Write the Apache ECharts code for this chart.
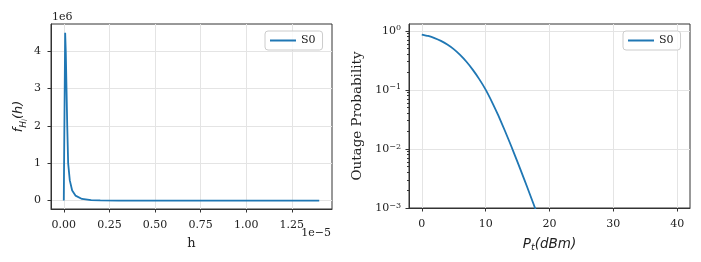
<!DOCTYPE html>
<html><head><meta charset="utf-8">
<script src="https://cdn.jsdelivr.net/npm/echarts@6/dist/echarts.min.js"></script>
<style>html,body{margin:0;padding:0;background:#fff}#c{width:701px;height:262px}</style>
</head><body><div id="c"></div>
<script>
const seriesName = 'S0';
// Left panel: h (units of 1e-5) and f_H(h) (units of 1e6)
const hValues   = [0, 0.0076, 0.011, 0.015, 0.019, 0.024, 0.033, 0.046, 0.064, 0.10, 0.15, 0.20, 0.30, 0.50, 0.80, 1.10, 1.40];
const pdfValues = [0, 4.49, 3.98, 3.0, 2.0, 1.0, 0.54, 0.27, 0.134, 0.044, 0.012, 0.004, 0.001, 0, 0, 0, 0];
const hTicks = [0, 0.25, 0.5, 0.75, 1.0, 1.25];
const pdfTicks = [0, 1, 2, 3, 4];
// Right panel: transmit power (dBm) and outage probability
const ptValues     = [0, 1, 2, 3, 4, 5, 6, 7, 8, 9, 10, 11, 12, 13, 14, 15, 16, 17, 18, 19];
const outageValues = [0.865, 0.817, 0.753, 0.675, 0.585, 0.489, 0.391, 0.299, 0.218, 0.152, 0.101, 0.0622, 0.0365, 0.0205, 0.0112, 0.00598, 0.00315, 0.00163, 0.000836, 0.000422];
const ptTicks = [0, 10, 20, 30, 40];
const outageTicks = [0.001, 0.01, 0.1, 1];
const outageMinorTicks = [0.002,0.003,0.004,0.005,0.006,0.007,0.008,0.009,0.02,0.03,0.04,0.05,0.06,0.07,0.08,0.09,0.2,0.3,0.4,0.5,0.6,0.7,0.8,0.9];

const serif = 'DejaVu Serif';
const spine = '#333';
const gridCol = '#e4e4e4';
const tickFont = {fontFamily: serif, fontSize: 11, color: '#222'};

function valueAxis(extra) {
  return Object.assign({
    type: 'value',
    axisLine: {show: true, onZero: false, lineStyle: {color: spine, width: 1}},
    splitLine: {show: true, lineStyle: {color: gridCol, width: 1}}
  }, extra);
}
const legendBase = {data: [seriesName], top: 31, orient: 'vertical', icon: 'rect', itemWidth: 26, itemHeight: 2, itemGap: 5,
  padding: [4, 7, 4, 5], borderColor: '#ccc', borderWidth: 1, borderRadius: 3, backgroundColor: 'rgba(255,255,255,0.8)',
  textStyle: {fontFamily: serif, fontSize: 11, color: '#222'}};

const chart = echarts.init(document.getElementById('c'), null, {renderer: 'canvas'});
chart.setOption({
  animation: false,
  backgroundColor: '#fff',
  grid: [
    {left: 51, top: 24, width: 281, height: 185, show: true, borderColor: spine, borderWidth: 1, backgroundColor: 'transparent'},
    {left: 409, top: 24, width: 281, height: 184, show: true, borderColor: spine, borderWidth: 1, backgroundColor: 'transparent'}
  ],
  legend: [
    Object.assign({left: 265}, legendBase),
    Object.assign({left: 623}, legendBase)
  ],
  xAxis: [
    valueAxis({gridIndex: 0, min: -0.07, max: 1.47,
      axisTick: {show: true, length: 3.5, customValues: hTicks, lineStyle: {color: spine}},
      axisLabel: Object.assign({margin: 11, customValues: hTicks, formatter: v => v.toFixed(2)}, tickFont),
      name: 'h', nameLocation: 'middle', nameGap: 28,
      nameTextStyle: {fontFamily: serif, fontSize: 13, color: '#222'}}),
    valueAxis({gridIndex: 1, min: -2, max: 42,
      axisTick: {show: true, length: 3.5, customValues: ptTicks, lineStyle: {color: spine}},
      axisLabel: Object.assign({margin: 11, customValues: ptTicks}, tickFont),
      name: '{i|P}{s|t}{i|(dBm)}', nameLocation: 'middle', nameGap: 27,
      nameTextStyle: {rich: {
        i: {fontFamily: 'DejaVu Sans', fontStyle: 'italic', fontSize: 13.5, color: '#222', lineHeight: 18, verticalAlign: 'middle'},
        s: {fontFamily: 'DejaVu Sans', fontStyle: 'italic', fontSize: 9.5, color: '#222', lineHeight: 18, verticalAlign: 'bottom'}
      }}})
  ],
  yAxis: [
    valueAxis({gridIndex: 0, min: -0.225, max: 4.725,
      axisTick: {show: true, length: 3.5, customValues: pdfTicks, lineStyle: {color: spine}},
      axisLabel: Object.assign({margin: 10, customValues: pdfTicks}, tickFont),
      name: '{i|f}{s|H}{ss|i}{i|(h)}', nameLocation: 'middle', nameGap: 22,
      nameTextStyle: {rich: {
        i: {fontFamily: 'DejaVu Sans', fontStyle: 'italic', fontSize: 13, color: '#222', lineHeight: 20, verticalAlign: 'middle'},
        s: {fontFamily: 'DejaVu Sans', fontStyle: 'italic', fontSize: 9, color: '#222', lineHeight: 20, verticalAlign: 'bottom', padding: [0,0,1,0]},
        ss: {fontFamily: 'DejaVu Sans', fontStyle: 'italic', fontSize: 7, color: '#222', lineHeight: 20, verticalAlign: 'bottom'}
      }}}),
    {type: 'log', logBase: 10, gridIndex: 1, min: 0.001, max: 1.303,
      axisLine: {show: true, onZero: false, lineStyle: {color: spine}},
      axisTick: {show: true, length: 3.5, customValues: outageTicks, lineStyle: {color: spine}},
      splitLine: {show: true, lineStyle: {color: gridCol}},
      axisLabel: Object.assign({margin: 8, customValues: outageTicks,
        formatter: v => { const e = String(Math.round(Math.log10(v))); return '{b|10}{s|' + e.replace('-', '−') + '}'; },
        rich: {b: {fontFamily: serif, fontSize: 11, color: '#222'}, s: {fontFamily: serif, fontSize: 8, color: '#222', verticalAlign: 'top', padding: [0,0,5,0]}}
      }, tickFont),
      name: 'Outage Probability', nameLocation: 'middle', nameGap: 45,
      nameTextStyle: {fontFamily: serif, fontSize: 13.5, color: '#222'}},
    {type: 'log', logBase: 10, gridIndex: 1, min: 0.001, max: 1.303, position: 'left',
      axisLine: {show: false, onZero: false}, splitLine: {show: false}, axisLabel: {show: false},
      axisTick: {show: true, length: 2, customValues: outageMinorTicks, lineStyle: {color: spine}}}
  ],
  graphic: [
    {type: 'text', left: 52, top: 12, style: {text: '1e6', fontFamily: serif, fontSize: 11, fill: '#222'}},
    {type: 'text', right: 370, top: 228, style: {text: '1e−5', fontFamily: serif, fontSize: 11, fill: '#222'}}
  ],
  series: [
    {name: seriesName, type: 'line', xAxisIndex: 0, yAxisIndex: 0, symbol: 'none', clip: true,
     data: hValues.map((h, i) => [h, pdfValues[i]]), lineStyle: {color: '#1f77b4', width: 1.8}, itemStyle: {color: '#1f77b4'}},
    {name: seriesName, type: 'line', xAxisIndex: 1, yAxisIndex: 1, symbol: 'none', clip: true, smooth: 0.2,
     data: ptValues.map((p, i) => [p, outageValues[i]]), lineStyle: {color: '#1f77b4', width: 1.8}, itemStyle: {color: '#1f77b4'}}
  ]
});
</script>
</body></html>
